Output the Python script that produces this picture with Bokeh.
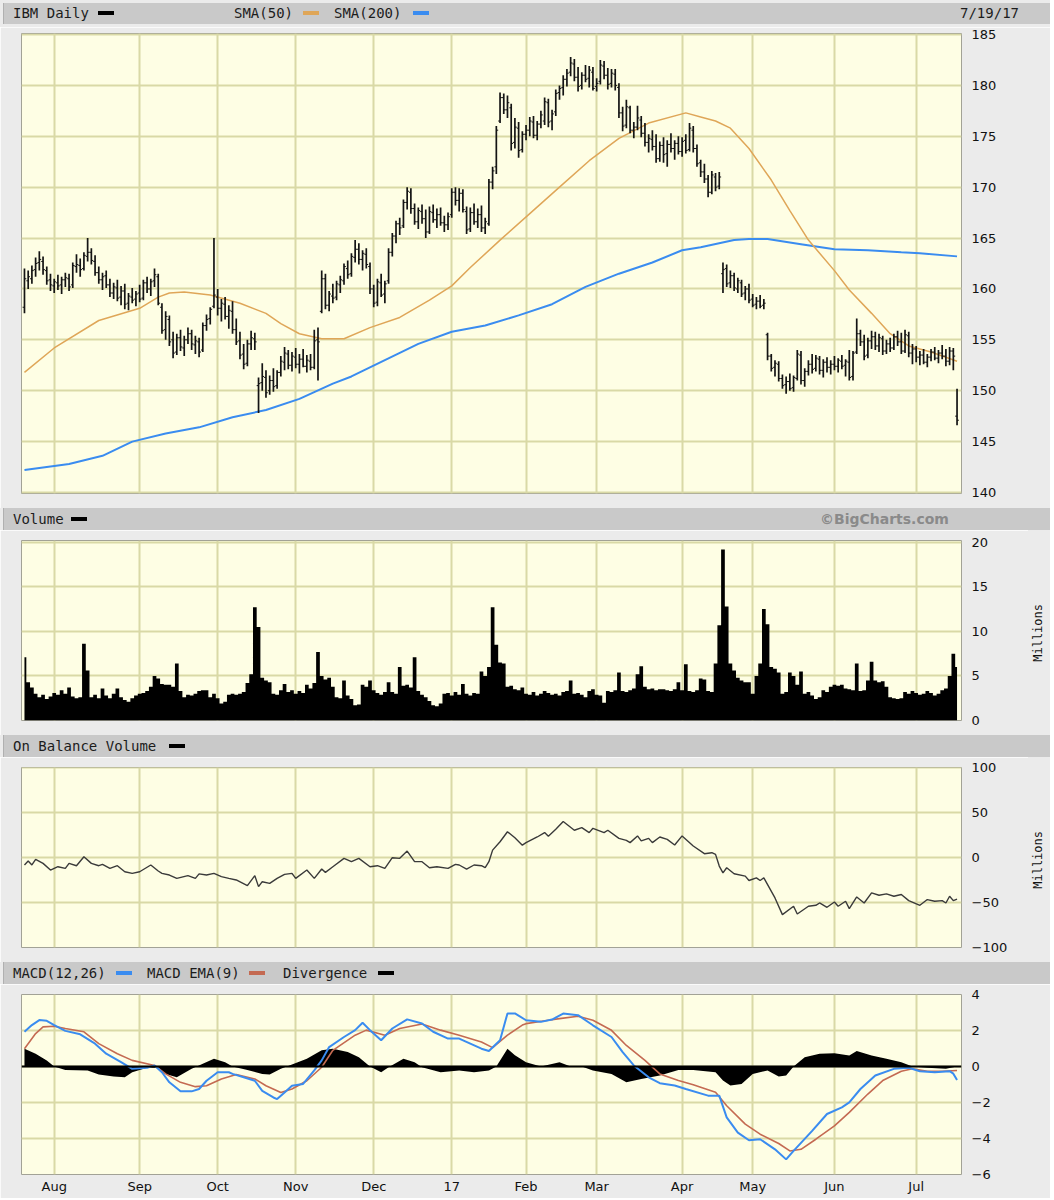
from bokeh.plotting import figure
from bokeh.models import Range1d, FixedTicker, Div, ColumnDataSource, Span
from bokeh.layouts import column, row
from bokeh.transform import dodge
from bokeh.embed import file_html
from bokeh.resources import INLINE

# ---------------- data (trading-day index 0 = 7/20/16 ... 251 = 7/19/17) ----------------
month_start = [8, 31, 52, 73, 94, 115, 135, 154, 177, 196, 218, 240]
month_labels = ["Aug", "Sep", "Oct", "Nov", "Dec", "17", "Feb", "Mar", "Apr", "May", "Jun", "Jul"]

price_ticks = [140, 145, 150, 155, 160, 165, 170, 175, 180, 185]
vol_ticks = [0, 5, 10, 15, 20]
obv_ticks = [-100, -50, 0, 50, 100]
macd_ticks = [-6, -4, -2, 0, 2, 4]

open_ = [158.2,160.8,161.0,161.9,162.6,162.7,161.8,160.9,160.3,160.6,
         160.4,160.9,161.0,160.4,162.2,162.3,162.0,163.2,163.6,162.7,
         161.6,160.9,161.3,160.4,159.6,160.1,159.2,159.8,158.6,159.2,
         159.0,159.6,159.1,160.6,160.0,160.8,161.2,158.2,156.0,157.0,
         155.0,153.8,155.2,154.2,155.0,155.6,154.5,154.8,154.0,156.4,
         157.1,158.3,159.2,158.1,158.5,157.3,157.8,156.0,154.9,153.6,
         152.7,154.6,155.1,150.5,150.8,151.3,150.0,151.0,150.5,151.8,
         152.8,153.6,152.5,153.3,152.6,153.1,152.4,152.9,152.3,155.0,
         157.8,161.0,158.4,159.3,159.2,160.4,160.8,162.0,161.5,163.1,
         163.9,162.9,163.4,162.2,160.0,158.7,160.6,159.5,160.8,163.6,
         165.2,166.4,166.2,168.5,169.5,167.9,166.6,167.6,166.9,165.6,
         167.5,166.8,167.3,166.5,166.3,167.3,169.5,168.7,169.4,167.6,
         165.9,167.5,166.6,167.3,166.0,166.4,170.5,172.0,176.5,178.8,
         177.6,177.8,174.4,175.8,173.7,175.2,175.6,176.4,175.1,176.2,
         176.5,178.3,176.5,177.4,179.3,179.8,180.6,181.3,182.1,180.8,
         180.0,181.0,180.7,181.3,179.9,180.4,181.9,181.0,180.2,181.1,
         179.8,177.3,176.1,177.8,175.6,175.9,176.6,175.3,174.4,174.7,
         174.0,172.8,174.1,173.3,174.2,173.8,174.3,173.5,174.6,173.7,
         175.6,173.8,172.4,171.5,170.8,169.5,171.0,170.1,161.5,162.0,
         160.6,161.3,160.0,160.6,159.6,160.0,159.0,158.5,158.8,158.4,
         155.5,153.4,152.3,152.6,151.2,150.6,150.9,150.3,151.2,153.5,
         151.0,151.9,152.6,152.2,153.1,152.0,152.8,152.3,152.6,152.4,
         152.9,152.5,152.8,151.4,153.8,155.6,154.8,153.5,154.9,155.3,
         154.4,155.1,153.9,154.6,154.2,155.3,154.8,153.9,155.4,153.7,
         154.1,153.3,153.5,152.8,153.3,153.8,153.2,153.7,153.4,152.9,
         153.9,147.5]
high_ = [162.0,161.8,162.3,163.1,163.7,163.2,162.2,161.5,161.0,161.4,
         161.2,161.6,161.5,162.6,163.4,163.0,163.6,165.0,164.0,163.3,
         162.2,161.6,161.8,161.0,160.6,160.9,160.3,160.5,159.6,160.1,
         159.8,160.4,160.9,161.2,161.0,162.0,161.5,158.6,157.8,157.4,
         155.8,155.6,156.0,155.4,156.2,156.0,155.4,155.2,156.7,157.5,
         158.2,165.0,160.0,159.0,159.2,158.4,158.8,157.1,155.8,154.6,
         155.0,155.9,155.7,151.3,152.7,152.0,151.5,152.2,152.0,153.4,
         154.3,154.0,153.8,154.2,153.6,154.1,153.5,153.6,156.0,156.2,
         161.8,161.5,159.8,160.5,160.8,161.3,162.5,162.8,163.5,164.8,
         164.5,163.8,164.0,162.6,160.4,161.0,161.5,160.8,164.0,165.5,
         166.7,167.0,168.8,170.0,169.9,168.4,168.0,168.3,167.8,168.1,
         168.3,167.9,168.0,167.2,167.5,169.9,170.0,169.9,169.8,168.1,
         168.0,168.4,167.9,168.2,167.0,170.8,172.0,176.0,179.3,179.2,
         179.0,178.2,176.8,176.4,175.5,176.1,176.9,177.0,176.5,177.5,
         178.8,178.7,177.6,179.6,180.0,181.0,181.6,182.8,182.6,181.8,
         181.3,182.0,181.9,181.8,180.7,182.5,182.4,181.7,181.6,181.6,
         180.2,177.9,178.6,178.0,176.4,178.0,177.0,176.3,175.2,175.6,
         175.2,174.5,174.9,174.6,175.3,174.6,175.0,174.9,175.2,176.3,
         176.0,174.2,172.7,172.3,171.2,171.6,171.4,171.5,162.6,162.4,
         161.8,161.6,161.1,160.9,160.3,160.5,159.5,159.2,159.4,159.0,
         155.7,153.6,153.0,152.9,151.6,151.4,151.7,151.5,154.0,153.9,
         152.2,153.0,153.6,153.5,153.4,153.1,153.3,153.0,153.4,153.2,
         153.5,153.1,154.0,153.9,157.1,156.0,155.5,155.2,155.9,155.8,
         155.6,155.4,155.0,155.2,155.6,155.9,155.7,156.0,155.8,154.6,
         154.4,153.9,154.1,153.6,154.1,154.3,154.0,154.5,154.1,154.3,
         154.2,150.2]
low_ = [157.6,160.0,160.5,161.2,161.8,161.4,160.4,159.8,159.6,159.9,
        159.5,160.2,159.8,160.1,161.6,161.2,161.8,162.7,162.4,161.3,
        160.5,159.9,160.1,159.2,159.0,158.8,158.4,158.0,157.9,158.6,
        158.3,158.7,158.9,159.6,159.3,160.2,158.4,155.6,155.0,154.4,
        153.2,153.5,153.9,153.4,154.6,154.0,153.6,153.3,153.8,155.9,
        156.5,158.1,157.4,156.8,157.0,156.1,155.6,154.5,153.1,152.1,
        152.4,154.0,154.0,147.8,150.0,149.3,149.6,149.9,150.2,151.4,
        152.0,152.1,151.9,152.2,151.7,152.3,151.8,152.0,152.1,151.0,
        157.6,158.0,157.8,158.6,158.9,159.6,160.4,161.0,161.2,162.6,
        162.4,161.8,162.0,159.5,158.2,158.3,159.2,158.6,160.5,163.2,
        164.5,165.3,166.0,167.8,167.4,166.3,165.9,166.4,165.0,165.4,
        166.5,166.0,166.2,165.6,165.8,167.0,168.2,167.6,167.5,165.4,
        165.6,166.3,166.0,165.6,165.4,166.2,169.8,171.3,176.3,177.2,
        176.8,173.6,173.8,172.9,173.4,174.6,175.0,174.8,174.6,175.8,
        176.1,175.9,175.6,177.0,178.6,179.0,179.9,180.9,180.4,179.4,
        179.6,180.3,179.8,179.5,179.4,180.1,180.6,179.6,179.8,179.5,
        176.8,175.5,175.8,175.3,174.8,175.6,174.9,174.0,173.4,173.6,
        172.4,172.5,172.4,172.0,173.4,172.7,173.2,173.0,173.3,173.5,
        173.4,172.0,171.0,170.4,169.0,169.3,169.6,169.8,159.6,160.2,
        160.1,159.8,159.6,159.2,158.9,158.6,158.2,158.0,158.1,158.0,
        153.0,151.9,151.4,150.9,150.2,149.7,150.0,149.9,151.0,150.6,
        150.4,151.5,151.7,151.9,151.6,151.3,151.8,151.6,152.0,151.8,
        152.1,151.4,151.0,151.0,153.6,154.4,153.0,153.2,154.1,154.0,
        153.8,153.5,153.6,153.8,154.0,154.4,153.6,153.7,153.3,152.6,
        152.8,152.5,152.6,152.3,152.9,153.0,152.7,153.1,152.4,152.5,
        152.0,146.6]
close_ = [161.0,161.2,161.8,162.5,162.9,161.9,160.8,160.4,160.7,160.3,
          160.9,161.1,160.2,162.3,162.4,161.9,163.3,163.6,162.8,161.6,
          160.9,161.2,160.4,159.6,160.2,159.1,159.8,158.5,159.3,158.9,
          159.5,159.0,160.6,160.0,160.7,161.4,158.6,155.9,157.3,154.8,
          153.7,155.2,154.3,155.0,155.6,154.6,154.9,153.8,156.4,157.0,
          158.0,159.4,158.1,158.6,157.3,157.9,156.0,154.8,153.5,152.6,
          154.6,155.2,154.8,150.7,151.4,149.8,151.0,150.4,151.8,152.9,
          153.7,152.5,153.4,152.6,153.1,152.4,153.0,152.3,154.9,154.8,
          161.0,158.4,159.5,159.1,160.5,160.9,162.2,161.4,163.2,163.9,
          162.9,163.5,162.4,160.0,158.6,160.7,159.4,160.5,163.6,165.2,
          166.4,166.0,168.5,169.6,167.9,166.6,167.7,166.9,165.6,167.6,
          166.8,167.3,166.5,166.3,167.1,169.5,168.7,169.4,167.8,165.8,
          167.5,166.6,167.3,166.0,166.6,170.5,171.6,175.6,178.8,177.6,
          178.3,174.3,175.9,173.6,175.2,175.6,176.5,175.1,176.2,177.1,
          178.4,176.4,177.2,179.2,179.7,180.6,181.2,182.2,180.8,179.9,
          181.0,180.6,181.5,179.7,180.2,182.0,181.0,180.1,181.2,180.0,
          177.3,176.0,177.9,175.6,175.9,176.8,175.3,174.4,174.8,174.0,
          172.8,174.1,173.2,174.2,173.8,174.3,173.5,174.5,173.6,175.8,
          173.8,172.3,171.5,170.8,169.5,171.2,170.0,171.0,161.9,160.5,
          161.3,160.1,160.8,159.5,160.0,158.9,158.4,158.8,158.3,158.6,
          153.4,152.2,152.7,151.2,150.5,150.9,150.2,151.3,153.6,151.0,
          151.9,152.6,152.1,153.2,152.0,152.8,152.3,152.6,152.4,153.0,
          152.4,152.9,151.3,153.7,155.6,154.8,153.4,154.9,155.3,154.4,
          155.2,153.9,154.6,154.2,155.3,154.8,153.9,155.5,153.7,154.1,
          153.3,153.5,152.8,153.3,153.8,153.2,153.7,153.4,152.9,153.9,
          153.4,147.1]

sma50_day = [0, 8, 20, 31, 36, 39, 43, 50, 58, 65, 69, 74, 80, 86, 93, 101, 109, 115, 120, 128,
             136, 144, 152, 160, 168, 178, 182, 186, 190, 195, 201, 206, 211, 218, 222, 228, 233,
             238, 244, 251]
sma50 = [151.8, 154.2, 156.9, 158.1, 159.2, 159.6, 159.7, 159.4, 158.6, 157.6, 156.6, 155.6,
         155.1, 155.1, 156.2, 157.2, 158.9, 160.3, 162.1, 164.8, 167.4, 170.0, 172.6, 174.8,
         176.3, 177.3, 176.9, 176.5, 175.8, 173.8, 170.7, 167.7, 164.8, 161.8, 159.9, 157.6,
         155.6, 154.4, 153.8, 152.9]

sma200_day = [0, 12, 21, 29, 38, 47, 56, 65, 74, 83, 88, 97, 106, 115, 124, 133, 142, 151, 160,
              169, 177, 182, 191, 195, 200, 209, 218, 227, 236, 241, 251]
sma200 = [142.2, 142.8, 143.6, 145.0, 145.8, 146.4, 147.4, 148.1, 149.2, 150.7, 151.4, 153.0,
          154.6, 155.8, 156.4, 157.4, 158.5, 160.2, 161.5, 162.6, 163.8, 164.1, 164.8, 164.9,
          164.9, 164.4, 163.9, 163.8, 163.6, 163.5, 163.2]

volume = [7.1,4.3,3.7,3.0,2.6,2.9,2.4,2.7,3.1,2.9,
          3.4,3.0,3.7,2.7,2.5,2.6,8.6,5.6,2.6,2.9,
          2.5,3.6,2.8,2.5,3.0,3.6,2.6,2.3,2.1,2.5,
          2.8,3.0,3.1,3.3,3.8,5.0,4.7,4.1,4.0,4.0,
          3.8,6.4,3.3,2.6,2.9,2.8,3.0,3.3,3.4,3.4,
          2.6,3.0,2.5,1.9,2.1,2.9,3.0,2.9,3.0,3.2,
          4.2,5.2,12.7,10.5,4.8,4.5,4.3,3.0,2.9,3.4,
          4.1,3.2,3.4,3.0,3.3,3.1,4.0,3.6,4.2,7.7,
          5.0,4.6,4.8,3.8,2.6,2.5,4.5,2.8,2.4,1.7,
          1.8,4.0,3.8,4.5,3.4,3.1,2.9,3.2,4.3,3.2,
          3.0,6.0,3.9,4.0,3.7,7.1,3.3,2.9,2.6,2.2,
          1.7,1.6,1.9,3.0,3.1,2.8,3.2,2.9,4.1,3.0,
          2.8,3.1,3.0,5.5,5.0,6.0,12.7,8.5,6.5,6.4,
          3.8,3.9,3.5,3.4,3.7,3.0,2.9,3.2,2.8,3.0,
          3.3,3.1,2.9,3.0,2.8,3.2,3.3,4.5,3.0,3.1,
          2.9,2.6,3.3,3.5,2.9,2.8,2.0,3.3,3.2,3.4,
          5.4,3.3,3.2,3.4,3.6,5.2,6.1,3.8,3.5,3.6,
          3.4,3.5,3.5,3.4,3.3,3.5,4.3,3.4,6.3,3.3,
          3.2,3.4,4.7,4.6,3.3,3.2,6.4,10.7,19.2,12.8,
          6.4,5.6,4.8,4.5,4.3,4.3,3.0,5.0,6.4,12.5,
          10.8,6.0,5.8,5.4,3.0,3.2,5.4,5.0,4.0,5.5,
          3.0,3.2,2.8,2.4,2.6,3.4,3.2,3.8,4.0,3.9,
          4.0,3.6,3.5,3.4,6.4,3.3,3.4,4.5,6.6,4.5,
          4.3,4.4,3.8,2.6,2.5,2.4,2.5,3.2,3.0,3.3,
          3.1,2.9,3.0,3.3,3.1,2.8,3.0,3.4,3.6,5.0,
          7.5,6.0]

obv_day = [0, 1, 2, 3, 5, 7, 9, 11, 12, 14, 16, 18, 20, 21, 23, 25, 27, 29, 31, 34, 36, 37, 39,
           41, 44, 46, 47, 49, 51, 53, 55, 57, 60, 62, 63, 64, 66, 68, 70, 72, 73, 76, 78, 80,
           81, 83, 86, 88, 90, 93, 95, 97, 99, 101, 103, 105, 107, 109, 111, 114, 116, 117, 119,
           121, 123, 124, 125, 126, 128, 130, 132, 134, 135, 138, 140, 141, 143, 145, 148, 150,
           152, 153, 156, 157, 160, 162, 163, 165, 166, 168, 169, 171, 173, 175, 177, 180, 183,
           185, 186, 187, 188, 189, 191, 194, 195, 197, 198, 199, 202, 204, 207, 208, 211, 213,
           214, 216, 218, 219, 221, 222, 224, 226, 228, 230, 232, 234, 236, 238, 241, 243, 245,
           247, 248, 249, 250, 251]
obv = [-8.1, -3.7, -8.0, -1.9, -6.3, -13.7, -10.0, -11.9, -6.3, -8.9, 1.1, -6.3, -8.9, -7.4,
       -11.9, -8.9, -15.6, -17.4, -15.6, -8.1, -14.8, -17.4, -19.3, -23.0, -20.0, -23.0, -18.0,
       -19.3, -17.4, -21.0, -23.0, -24.8, -31.1, -20.0, -32.2, -26.7, -28.5, -23.0, -18.5, -17.4,
       -23.0, -13.7, -23.0, -12.6, -16.3, -10.0, -0.7, -4.4, -0.7, -10.0, -8.9, -11.9, 0.0, -0.7,
       7.4, -4.4, -4.4, -11.1, -10.0, -11.9, -7.4, -8.1, -12.6, -8.1, -8.9, -11.1, -4.4, 8.5, 17.8,
       28.9, 22.2, 14.0, 16.8, 23.1, 28.0, 24.0, 31.7, 40.3, 30.6, 33.6, 28.0, 32.8, 28.0, 30.6,
       21.6, 19.4, 16.8, 24.3, 18.7, 21.6, 16.8, 23.1, 20.5, 14.2, 24.3, 13.1, 4.5, 5.6, 3.7,
       -9.3, -16.8, -11.2, -17.9, -20.5, -25.4, -22.4, -25.4, -22.4, -44.8, -63.4, -54.1, -62.7,
       -54.1, -53.0, -50.4, -55.2, -49.3, -54.1, -48.5, -56.7, -43.7, -50.4, -39.2, -41.8, -40.3,
       -42.9, -41.0, -47.8, -53.0, -46.6, -48.5, -47.8, -50.4, -42.9, -47.8, -46.0]

macd_day = [0, 2, 4, 6, 8, 11, 15, 19, 22, 26, 29, 33, 35, 37, 39, 42, 45, 47, 49, 52, 55, 56, 59,
            62, 64, 67, 68, 70, 72, 75, 78, 80, 82, 86, 89, 91, 93, 96, 99, 103, 107, 110, 114,
            117, 120, 123, 125, 128, 130, 132, 135, 139, 142, 145, 149, 153, 158, 161, 164, 168,
            171, 175, 178, 184, 187, 189, 192, 195, 198, 202, 205, 207, 212, 216, 220, 222, 225,
            229, 234, 238, 241, 245, 249, 250, 251]
macd = [1.93, 2.3, 2.58, 2.54, 2.3, 1.98, 1.79, 1.27, 0.71, 0.24, -0.13, -0.07, 0.06, -0.32,
        -0.88, -1.38, -1.38, -1.25, -0.79, -0.32, -0.32, -0.41, -0.6, -0.79, -1.35, -1.72, -1.81,
        -1.44, -1.07, -0.97, -0.22, 0.34, 1.08, 1.64, 2.02, 2.43, 2.02, 1.46, 2.11, 2.62, 2.39,
        1.93, 1.55, 1.55, 1.27, 0.99, 0.86, 1.46, 2.95, 2.95, 2.57, 2.48, 2.61, 2.94, 2.85, 2.29,
        1.64, 0.8, 0.06, -0.6, -0.93, -1.06, -1.25, -1.62, -1.62, -2.83, -3.67, -4.1, -4.04, -4.6,
        -5.16, -4.69, -3.58, -2.64, -2.27, -1.99, -1.25, -0.5, -0.13, -0.07, -0.26, -0.32, -0.26,
        -0.4, -0.75]

signal_day = [0, 3, 5, 8, 11, 16, 20, 25, 29, 35, 38, 42, 46, 49, 53, 57, 62, 65, 69, 72, 76, 80,
              83, 89, 92, 97, 101, 107, 112, 117, 123, 126, 130, 134, 135, 141, 144, 149, 153, 158,
              162, 167, 171, 176, 180, 186, 189, 194, 198, 203, 206, 209, 213, 218, 222, 227, 231,
              236, 239, 243, 247, 251]
signal = [0.99, 1.83, 2.2, 2.24, 2.11, 1.93, 1.27, 0.71, 0.34, 0.06, -0.41, -0.88, -1.12, -1.07,
          -0.69, -0.45, -0.69, -1.07, -1.44, -1.25, -0.79, -0.04, 0.9, 1.74, 2.02, 1.74, 2.11,
          2.36, 2.02, 1.74, 1.36, 1.05, 1.74, 2.3, 2.38, 2.57, 2.66, 2.79, 2.57, 2.01, 1.17, 0.34,
          -0.41, -0.78, -1.01, -1.43, -2.18, -3.2, -3.76, -4.28, -4.69, -4.6, -4.04, -3.3, -2.55,
          -1.53, -0.78, -0.26, -0.13, -0.26, -0.26, -0.22]

div_day = [0, 3, 6, 8, 11, 17, 20, 24, 27, 29, 33, 36, 38, 41, 45, 48, 51, 54, 56, 60, 64, 66, 69,
           72, 76, 80, 83, 87, 90, 93, 96, 98, 102, 105, 107, 112, 117, 121, 125, 127, 130, 132,
           135, 139, 144, 147, 150, 153, 158, 162, 166, 171, 176, 180, 186, 188, 190, 193, 196,
           200, 203, 205, 207, 210, 214, 218, 222, 224, 228, 232, 236, 239, 243, 248, 251]
divergence = [0.99, 0.71, 0.34, 0.0, -0.19, -0.22, -0.45, -0.56, -0.6, -0.32, -0.07, -0.07, -0.41,
              -0.6, -0.13, 0.15, 0.43, 0.24, 0.0, -0.19, -0.41, -0.45, -0.13, 0.11, 0.43, 0.9,
              0.99, 0.8, 0.52, 0.0, -0.32, -0.04, 0.43, 0.24, -0.04, -0.32, -0.22, -0.32, -0.22,
              0.0, 0.99, 0.62, 0.24, 0.0, 0.24, 0.0, 0.0, -0.22, -0.41, -0.88, -0.69, -0.5, -0.19,
              -0.19, -0.32, -0.78, -1.06, -0.97, -0.41, -0.22, -0.56, -0.5, 0.0, 0.52, 0.71, 0.74,
              0.61, 0.86, 0.61, 0.43, 0.24, 0.0, -0.07, -0.13, 0.0]

# ---------------- styling ----------------
YEL = "#fefee4"
BG = "#ebebeb"
GRID = "#d9d9a6"
HDR = "#c9c9c9"
ORANGE = "#dfa658"
BLUE = "#3a8cf0"
RED = "#c46a52"
W = 1050
FRAME_W = 940
UNIT_W = 22          # width of the rotated "Millions" strip
X_START, X_END = -0.8, 252.2
n = len(close_)
days = list(range(n))


def header(items, height, bar_top=0, bar_h=None):
    if bar_h is None:
        bar_h = height
    parts = []
    for kind, pos, val in items:
        if kind == "t":
            parts.append(f'<span style="position:absolute;left:{pos}px;top:0;line-height:{bar_h}px;'
                         f'white-space:nowrap;">{val}</span>')
        elif kind == "s":
            parts.append(f'<span style="position:absolute;left:{pos}px;top:{bar_h // 2 - 2}px;'
                         f'width:16px;height:4px;background:{val};"></span>')
        elif kind == "r":
            parts.append(f'<span style="position:absolute;left:{pos}px;top:0;line-height:{bar_h}px;'
                         f'font-family:\'DejaVu Sans\';font-weight:bold;color:#8a8a8a;'
                         f'white-space:nowrap;">{val}</span>')
    bar = (f'<div style="position:absolute;left:3px;top:{bar_top}px;width:{W - 3}px;height:{bar_h}px;'
           f'background:{HDR};border-left:1px solid #b0b0b0;">'
           + "".join(parts) + '</div>')
    html = (f'<div style="position:relative;width:{W}px;height:{height}px;background:{BG};'
            f'font-family:\'DejaVu Sans Mono\',monospace;font-size:14px;color:#1c1c1c;overflow:hidden;">'
            + bar + '</div>')
    return Div(text=html, width=W, height=height, margin=0)


def unit_strip(height):
    html = (f'<div style="width:{UNIT_W}px;height:{height}px;background:{BG};display:flex;'
            f'align-items:center;justify-content:center;">'
            f'<span style="writing-mode:vertical-rl;transform:rotate(180deg);'
            f'font-family:\'DejaVu Sans Mono\',monospace;font-size:12px;color:#111111;'
            f'white-space:nowrap;">Millions</span></div>')
    return Div(text=html, width=UNIT_W, height=height, margin=0)


def panel(y0, y1, yticks, top, bottom, frame_h, show_x=False, right=None):
    if right is None:
        right = W - 21 - FRAME_W
    p = figure(output_backend="svg", toolbar_location=None, tools="",
               frame_width=FRAME_W, frame_height=frame_h,
               x_range=Range1d(X_START, X_END), y_range=Range1d(y0, y1),
               y_axis_location="right", x_axis_location="below" if show_x else None,
               min_border_left=21, min_border_right=right, min_border_top=top,
               min_border_bottom=bottom, background_fill_color=YEL, border_fill_color=BG,
               outline_line_color="#a2a296", outline_line_width=1, margin=0)
    p.xgrid.ticker = FixedTicker(ticks=month_start)
    p.grid.grid_line_color = GRID
    p.grid.grid_line_width = 2
    ax = p.yaxis[0]
    ax.ticker = FixedTicker(ticks=yticks)
    ax.axis_line_color = None
    ax.major_tick_line_color = None
    ax.minor_tick_line_color = None
    ax.major_tick_out = 0
    ax.major_tick_in = 0
    ax.major_label_standoff = 10
    ax.major_label_text_font = "DejaVu Sans"
    ax.major_label_text_font_size = "13px"
    ax.major_label_text_color = "#111111"
    if show_x:
        xa = p.xaxis[0]
        xa.ticker = FixedTicker(ticks=month_start)
        xa.major_label_overrides = {m: l for m, l in zip(month_start, month_labels)}
        xa.axis_line_color = None
        xa.major_tick_line_color = None
        xa.minor_tick_line_color = None
        xa.major_tick_out = 0
        xa.major_tick_in = 0
        xa.major_label_standoff = 4
        xa.major_label_text_font = "DejaVu Sans"
        xa.major_label_text_font_size = "13px"
        xa.major_label_text_color = "#111111"
    return p


# ---------------- price panel ----------------
h1 = header([("t", 9, "IBM Daily"), ("s", 94, "#000000"),
             ("t", 230, "SMA(50)"), ("s", 299, ORANGE),
             ("t", 330, "SMA(200)"), ("s", 409, BLUE),
             ("t", 956, "7/19/17")], 27, bar_top=3, bar_h=21)
pp = panel(139.9, 185.1, price_ticks, 6, 15, 460)
src = ColumnDataSource(dict(x=days, o=open_, h=high_, l=low_, c=close_))
pp.line(sma200_day, sma200, line_color=BLUE, line_width=2)
pp.line(sma50_day, sma50, line_color=ORANGE, line_width=1.5)
pp.segment(x0="x", y0="l", x1="x", y1="h", source=src, line_color="#141414", line_width=1.7)
pp.segment(x0=dodge("x", -0.5), y0="o", x1="x", y1="o", source=src, line_color="#141414", line_width=1)
pp.segment(x0="x", y0="c", x1=dodge("x", 0.5), y1="c", source=src, line_color="#141414", line_width=1)

# ---------------- volume panel ----------------
h2 = header([("t", 9, "Volume"), ("s", 67, "#000000"),
             ("r", 816, "\u00a9BigCharts.com")], 22)
pv = panel(0, 20.2, vol_ticks, 10, 15, 180, right=W - 21 - FRAME_W - UNIT_W)
try:
    pv.varea_step(x=days, y1=0, y2=volume, step_mode="center", fill_color="black")
except Exception:
    pv.vbar(x=days, top=volume, bottom=0, width=1.0, fill_color="black", line_color="black",
            line_width=0.6)
vol_row = row(pv, unit_strip(205), spacing=0, margin=0)

# ---------------- OBV panel ----------------
h3 = header([("t", 9, "On Balance Volume"), ("s", 165, "#000000")], 22)
po = panel(-100, 100.5, obv_ticks, 10, 15, 180, right=W - 21 - FRAME_W - UNIT_W)
po.line(obv_day, obv, line_color="#3a3a3a", line_width=1.4)
obv_row = row(po, unit_strip(205), spacing=0, margin=0)

# ---------------- MACD panel ----------------
h4 = header([("t", 9, "MACD(12,26)"), ("s", 112, BLUE),
             ("t", 143, "MACD EMA(9)"), ("s", 245, RED),
             ("t", 279, "Divergence"), ("s", 374, "#000000")], 22)
pm = panel(-6.0, 4.0, macd_ticks, 10, 24, 180, show_x=True)
pm.varea(x=div_day, y1=0, y2=divergence, fill_color="black")
pm.add_layout(Span(location=0, dimension="width", line_color="black", line_width=2))
pm.line(signal_day, signal, line_color=RED, line_width=1.6)
pm.line(macd_day, macd, line_color=BLUE, line_width=2)

layout = column(h1, pp, h2, vol_row, h3, obv_row, h4, pm, spacing=0, margin=0)

with open("out.html", "w") as f:
    f.write(file_html(layout, INLINE, title="IBM Daily"))
